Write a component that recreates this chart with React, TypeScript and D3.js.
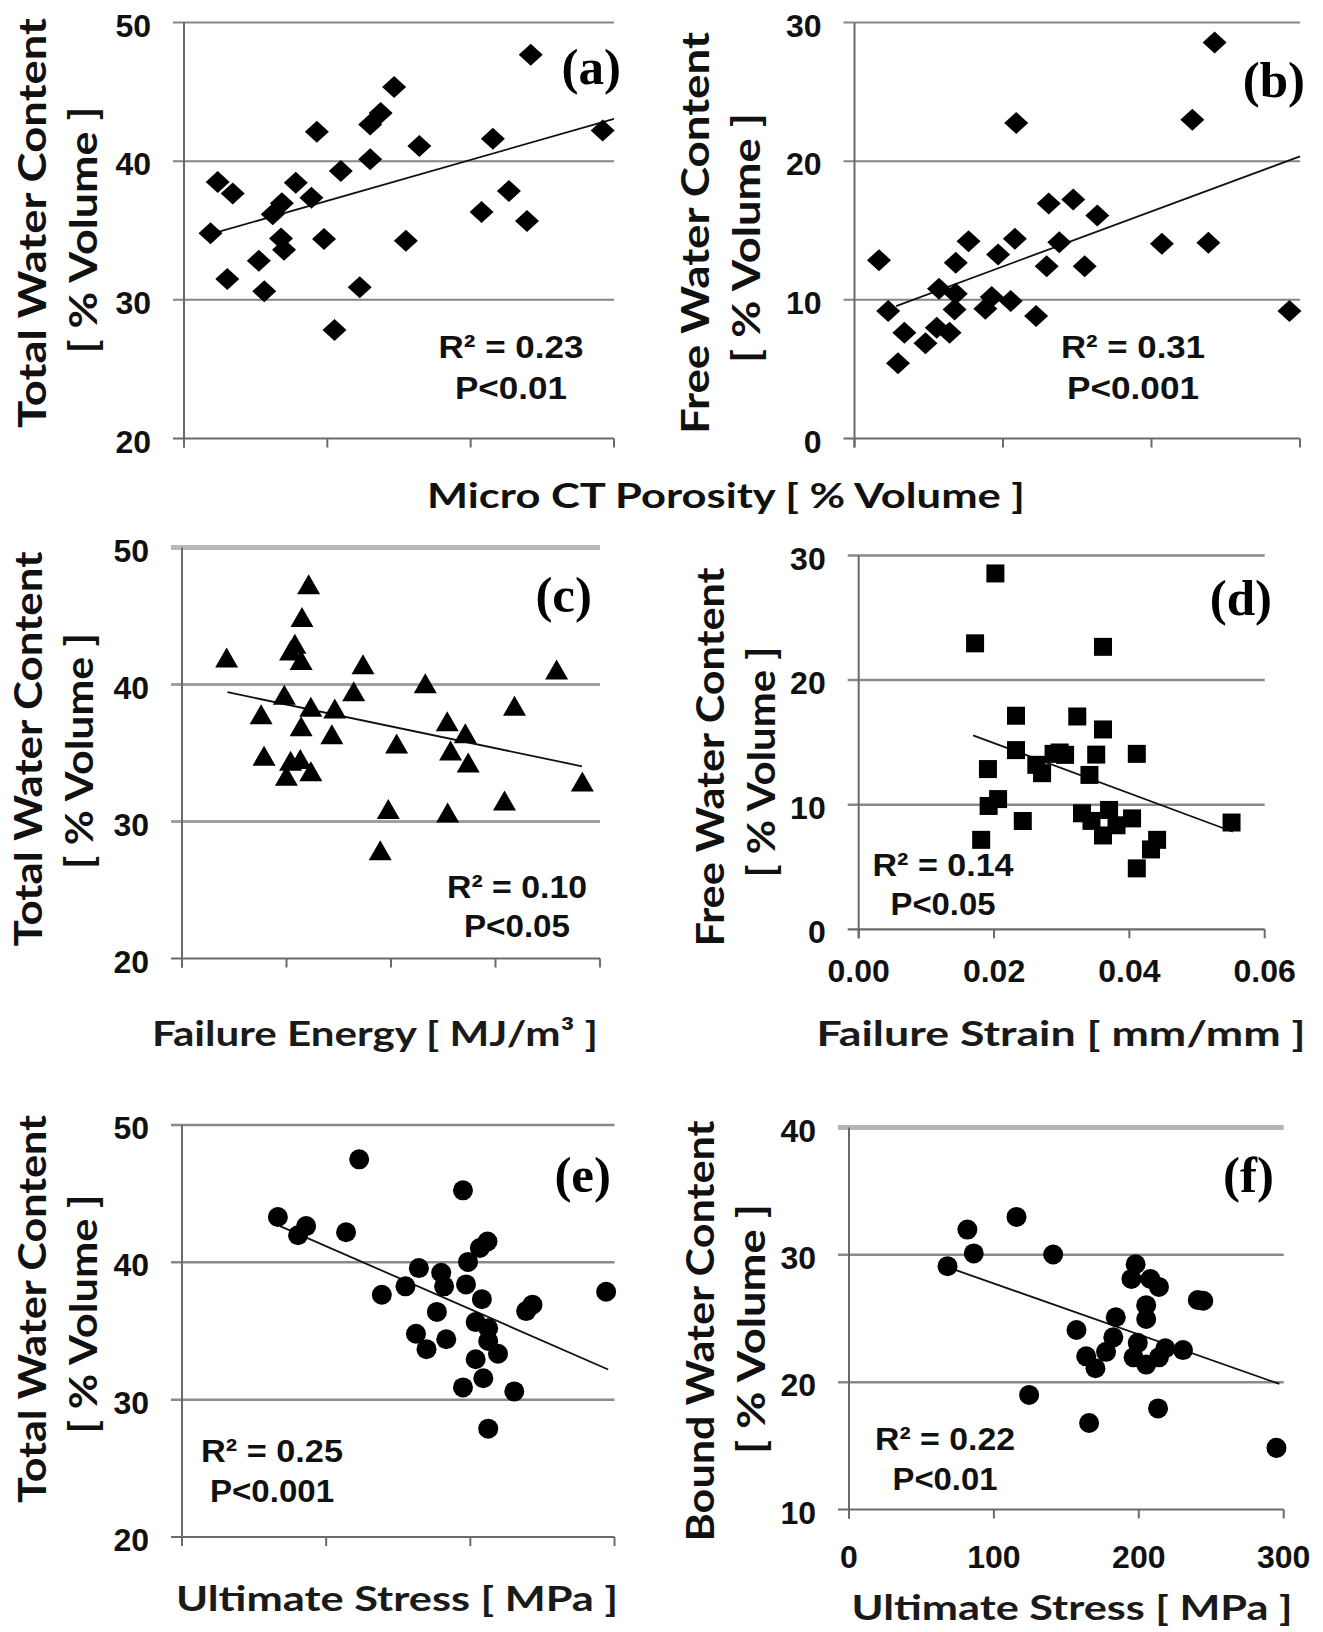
import React from "react";
import * as d3 from "d3";

// ---------- DATA ----------
// (a) Micro CT porosity (unlabelled axis units) vs Total water content
const aX = [2.419, 1.466, 1.372, 1.299, 0.927, 2.921, 2.155, 1.642, 1.299, 1.094, 0.235, 0.78, 0.34, 2.267, 0.889, 0.683, 2.076, 0.619, 0.185, 2.393, 0.677, 0.977, 1.548, 0.698, 0.522, 0.302, 0.56, 1.226, 1.05];
const aY = [47.68, 45.35, 43.48, 42.64, 42.12, 42.21, 41.61, 41.09, 40.13, 39.29, 38.5, 38.45, 37.66, 37.85, 37.37, 36.96, 36.34, 36.17, 34.81, 35.69, 34.42, 34.38, 34.26, 33.61, 32.82, 31.5, 30.61, 30.9, 27.83];
const aTrend = [[0.19, 34.75], [3.0, 43.05]];

// (b) Micro CT porosity vs Free water content
const bX = [2.425, 2.275, 1.089, 1.473, 1.308, 1.635, 1.08, 0.768, 1.379, 2.07, 2.383, 0.967, 0.165, 0.682, 1.294, 1.55, 0.569, 0.682, 0.924, 1.052, 0.227, 0.674, 0.881, 1.223, 2.929, 0.336, 0.64, 0.554, 0.478, 0.293];
const bY = [28.56, 22.99, 22.75, 17.23, 16.94, 16.08, 14.4, 14.23, 14.16, 14.04, 14.11, 13.27, 12.86, 12.67, 12.43, 12.43, 10.8, 10.44, 10.2, 9.91, 9.19, 9.31, 9.36, 8.83, 9.19, 7.63, 7.63, 7.99, 6.87, 5.42];
const bTrend = [[0.28, 9.55], [3.0, 20.35]];

// (c) Failure energy vs Total water content
const cX = [1.212, 1.148, 1.08, 1.039, 1.14, 0.427, 1.732, 3.585, 2.328, 0.979, 1.643, 1.233, 1.462, 3.182, 0.757, 2.538, 1.14, 2.711, 1.434, 2.054, 2.57, 0.785, 1.039, 1.132, 2.739, 1.233, 0.999, 3.831, 3.086, 1.974, 2.542, 1.897];
const cY = [47.18, 44.79, 42.83, 42.33, 41.65, 41.82, 41.33, 40.95, 39.94, 39.11, 39.36, 38.23, 38.11, 38.31, 37.68, 37.18, 36.8, 36.3, 36.22, 35.54, 35.04, 34.66, 34.28, 34.41, 34.16, 33.53, 33.2, 32.78, 31.39, 30.76, 30.51, 27.75];
const cTrend = [[0.435, 39.44], [3.827, 34.03]];

// (d) Failure strain vs Free water content
const dX = [0.0202, 0.0172, 0.0361, 0.02325, 0.0323, 0.0361, 0.02325, 0.0297, 0.0288, 0.0305, 0.0351, 0.0411, 0.0191, 0.02625, 0.0271, 0.0341, 0.0206, 0.0192, 0.02425, 0.033, 0.037, 0.0344, 0.0381, 0.0404, 0.0551, 0.0181, 0.0361, 0.0441, 0.0432, 0.0411];
const dY = [28.56, 22.95, 22.67, 17.14, 17.08, 16.04, 14.38, 14.19, 14.08, 14.0, 14.02, 14.08, 12.86, 13.2, 12.53, 12.39, 10.45, 9.9, 8.7, 9.31, 9.58, 8.7, 8.35, 8.9, 8.57, 7.18, 7.53, 7.18, 6.41, 4.89];
const dTrend = [[0.0169, 15.57], [0.0553, 7.83]];

// (e) Ultimate stress (unlabelled axis units) vs Total water content
const eX = [1.229, 1.949, 0.665, 0.861, 0.805, 1.138, 2.119, 2.066, 1.984, 1.643, 1.798, 1.818, 1.55, 1.97, 2.942, 1.386, 2.08, 2.431, 2.387, 1.768, 2.037, 2.124, 1.623, 1.833, 2.124, 1.696, 2.192, 2.037, 2.09, 1.949, 2.305, 2.124];
const eY = [47.5, 45.24, 43.3, 42.64, 41.97, 42.19, 41.52, 41.04, 40.03, 39.58, 39.24, 38.25, 38.25, 38.39, 37.86, 37.64, 37.32, 36.92, 36.45, 36.39, 35.65, 35.2, 34.8, 34.4, 34.27, 33.68, 33.34, 32.94, 31.56, 30.89, 30.6, 27.89];
const eTrend = [[0.68, 42.64], [2.956, 32.2]];

// (f) Ultimate stress vs Bound water content
const fX = [115.6, 81.7, 86.1, 140.9, 68, 197.8, 194.9, 208, 213.9, 205.1, 240.7, 244.5, 205.1, 184.1, 157, 182.4, 199.3, 230.5, 218.3, 177.4, 163.7, 196.4, 213.9, 205.1, 170.1, 124.3, 213.3, 165.7, 295];
const fY = [32.98, 31.98, 30.11, 30.03, 29.11, 29.26, 28.11, 28.1, 27.48, 26.05, 26.45, 26.39, 24.96, 25.1, 24.1, 23.52, 23.09, 22.52, 22.66, 22.38, 22.03, 21.95, 21.95, 21.38, 21.09, 19.0, 17.94, 16.79, 14.84];
const fTrend = [[68, 29.03], [297, 19.86]];

// tick values / labels
const ticksY50 = [20, 30, 40, 50];
const ticksY30 = [0, 10, 20, 30];
const ticksY40 = [10, 20, 30, 40];
const ticksX3 = [0, 1, 2, 3];
const ticksX4 = [0, 1, 2, 3, 4];
const ticksStrain = [0, 0.02, 0.04, 0.06];
const ticksStress = [0, 100, 200, 300];

const titleTotal = "Total Water Content";
const titleFree = "Free Water Content";
const titleBound = "Bound Water Content";
const titleVol = "[ % Volume ]";

// ---------- LAYOUT ----------
type PanelCfg = {
  xs: number[]; ys: number[]; trend: number[][];
  shape: string;
  xDomain: number[]; yDomain: number[];
  xTicks: number[]; yTicks: number[]; xFmt: ((v: number) => string) | null; xLabOff?: number;
  left: number; right: number; top: number; bottom: number;
  tag: string; tagX: number; tagY: number;
  r2: string; p: string; statX: number; r2Y: number; pY: number; r2L: number; pL: number;
  t1: string; t1X: number; t1Y: number; t1L: number;
  t2X: number; t2Y: number; t2L: number;
  xt?: string; xtX?: number; xtY?: number; xtL?: number;
  grid: string; gridW: number; topGridW?: number; topGrid?: string;
};

const panels: PanelCfg[] = [
  {
    xs: aX, ys: aY, trend: aTrend, shape: "diamond",
    xDomain: [0, 3], yDomain: [20, 50], xTicks: ticksX3, yTicks: ticksY50, xFmt: null,
    left: 184, right: 614, top: 22.5, bottom: 438.5,
    tag: "(a)", tagX: 621, tagY: 84,
    r2: "R² = 0.23", p: "P<0.01", statX: 511, r2Y: 358, pY: 399, r2L: 145, pL: 112,
    t1: titleTotal, t1X: 33, t1Y: 223, t1L: 410, t2X: 84, t2Y: 230, t2L: 247,
    grid: "#858585", gridW: 2,
  },
  {
    xs: bX, ys: bY, trend: bTrend, shape: "diamond",
    xDomain: [0, 3], yDomain: [0, 30], xTicks: ticksX3, yTicks: ticksY30, xFmt: null,
    left: 854.5, right: 1300, top: 22.5, bottom: 438.5,
    tag: "(b)", tagX: 1305, tagY: 97,
    r2: "R² = 0.31", p: "P<0.001", statX: 1133, r2Y: 358, pY: 399, r2L: 144, pL: 132,
    t1: titleFree, t1X: 696, t1Y: 233, t1L: 402, t2X: 747, t2Y: 238, t2L: 250,
    grid: "#858585", gridW: 2,
  },
  {
    xs: cX, ys: cY, trend: cTrend, shape: "triangle",
    xDomain: [0, 4], yDomain: [20, 50], xTicks: ticksX4, yTicks: ticksY50, xFmt: null,
    left: 182, right: 600, top: 547.5, bottom: 958.5,
    tag: "(c)", tagX: 592, tagY: 612,
    r2: "R² = 0.10", p: "P<0.05", statX: 517, r2Y: 898, pY: 937, r2L: 140, pL: 106,
    t1: titleTotal, t1X: 29, t1Y: 749, t1L: 395, t2X: 80, t2Y: 751, t2L: 236,
    xt: "Failure Energy [ MJ/m³ ]", xtX: 375, xtY: 1046, xtL: 446,
    grid: "#a0a0a0", gridW: 3, topGrid: "#b8b8b8", topGridW: 5,
  },
  {
    xs: dX, ys: dY, trend: dTrend, shape: "square",
    xDomain: [0, 0.06], yDomain: [0, 30], xTicks: ticksStrain, yTicks: ticksY30, xFmt: (v) => v.toFixed(2), xLabOff: 53,
    left: 858.7, right: 1264.7, top: 555.5, bottom: 929.3,
    tag: "(d)", tagX: 1272, tagY: 615,
    r2: "R² = 0.14", p: "P<0.05", statX: 943, r2Y: 876, pY: 915, r2L: 141, pL: 105,
    t1: titleFree, t1X: 711, t1Y: 757, t1L: 379, t2X: 762, t2Y: 762, t2L: 231,
    xt: "Failure Strain [ mm/mm ]", xtX: 1061, xtY: 1046, xtL: 489,
    grid: "#8a8a8a", gridW: 2.5,
  },
  {
    xs: eX, ys: eY, trend: eTrend, shape: "circle",
    xDomain: [0, 3], yDomain: [20, 50], xTicks: ticksX3, yTicks: ticksY50, xFmt: null,
    left: 182, right: 614.5, top: 1125, bottom: 1537,
    tag: "(e)", tagX: 611, tagY: 1192,
    r2: "R² = 0.25", p: "P<0.001", statX: 272, r2Y: 1462, pY: 1502, r2L: 142, pL: 124,
    t1: titleTotal, t1X: 33, t1Y: 1309, t1L: 388, t2X: 84, t2Y: 1314, t2L: 239,
    xt: "Ultimate Stress [ MPa ]", xtX: 397, xtY: 1611, xtL: 442,
    grid: "#8a8a8a", gridW: 2.5,
  },
  {
    xs: fX, ys: fY, trend: fTrend, shape: "circle",
    xDomain: [0, 300], yDomain: [10, 40], xTicks: ticksStress, yTicks: ticksY40, xFmt: (v) => String(v), xLabOff: 58,
    left: 849, right: 1283.7, top: 1127.5, bottom: 1509.5,
    tag: "(f)", tagX: 1274, tagY: 1192,
    r2: "R² = 0.22", p: "P<0.01", statX: 945, r2Y: 1450, pY: 1490, r2L: 140, pL: 105,
    t1: titleBound, t1X: 701, t1Y: 1331, t1L: 421, t2X: 752, t2Y: 1329, t2L: 250,
    xt: "Ultimate Stress [ MPa ]", xtX: 1072, xtY: 1620, xtL: 441,
    grid: "#8a8a8a", gridW: 2.5, topGrid: "#b5b5b5", topGridW: 5,
  },
];

const NUM_FONT = "'Liberation Sans', Arial, sans-serif";
const TITLE_FONT = "Lato, 'Open Sans', sans-serif";
const TAG_FONT = "'Liberation Serif', 'Times New Roman', serif";
const INK = "#111";

function markerPath(shape: string, cx: number, cy: number): string {
  switch (shape) {
    case "diamond":
      return `M${cx},${cy - 11}L${cx + 12},${cy}L${cx},${cy + 11}L${cx - 12},${cy}Z`;
    case "triangle":
      return `M${cx},${cy - 12}L${cx + 11.5},${cy + 8}L${cx - 11.5},${cy + 8}Z`;
    case "square":
      return `M${cx - 9},${cy - 9}h18v18h-18Z`;
    default: {
      const p = d3.path();
      p.arc(cx, cy, 10, 0, Math.PI * 2);
      return p.toString();
    }
  }
}

function Panel({ c }: { c: PanelCfg }) {
  const x = d3.scaleLinear().domain(c.xDomain).range([c.left, c.right]);
  const y = d3.scaleLinear().domain(c.yDomain).range([c.bottom, c.top]);
  const line = d3.line<number[]>().x((d) => x(d[0])).y((d) => y(d[1]));
  const yMax = c.yDomain[1];
  const yMin = c.yDomain[0];
  return (
    <g>
      {c.yTicks.map((t) => (
        <line key={"g" + t} x1={c.left - 11} x2={c.right} y1={y(t)} y2={y(t)}
          stroke={t === yMax && c.topGrid ? c.topGrid : t === yMin ? "#6a6a6a" : c.grid}
          strokeWidth={t === yMax && c.topGridW ? c.topGridW : t === yMin ? 2.2 : c.gridW} />
      ))}
      <line x1={c.left} x2={c.left} y1={c.top} y2={c.bottom + 9} stroke="#6a6a6a" strokeWidth={2} />
      {c.xTicks.map((t) => (
        <line key={"xt" + t} x1={x(t)} x2={x(t)} y1={c.bottom} y2={c.bottom + 9} stroke="#6a6a6a" strokeWidth={2} />
      ))}
      {c.yTicks.map((t) => (
        <text key={"yl" + t} x={c.left - 33} y={y(t) + 14} textAnchor="end"
          fontFamily={NUM_FONT} fontWeight="bold" fontSize={32} fill={INK}>{t}</text>
      ))}
      {c.xFmt && c.xTicks.map((t) => (
        <text key={"xl" + t} x={x(t)} y={c.bottom + (c.xLabOff || 52)} textAnchor="middle"
          fontFamily={NUM_FONT} fontWeight="bold" fontSize={32} fill={INK}>{c.xFmt!(t)}</text>
      ))}
      <path d={line(c.trend) || ""} fill="none" stroke="#111" strokeWidth={1.8} />
      {c.xs.map((v, i) => (
        <path key={"m" + i} d={markerPath(c.shape, x(v), y(c.ys[i]))} fill="#000" />
      ))}
      <text x={c.tagX} y={c.tagY} textAnchor="end" fontFamily={TAG_FONT} fontWeight="bold" fontSize={51} fill="#000">{c.tag}</text>
      <text x={c.statX} y={c.r2Y} textAnchor="middle" fontFamily={NUM_FONT} fontWeight="bold" fontSize={32} fill={INK}
        textLength={c.r2L} lengthAdjust="spacingAndGlyphs">{c.r2}</text>
      <text x={c.statX} y={c.pY} textAnchor="middle" fontFamily={NUM_FONT} fontWeight="bold" fontSize={32} fill={INK}
        textLength={c.pL} lengthAdjust="spacingAndGlyphs">{c.p}</text>
      <text transform={`translate(${c.t1X + 13},${c.t1Y}) rotate(-90)`} textAnchor="middle"
        fontFamily={TITLE_FONT} fontWeight="bold" fontSize={38} fill={INK}
        textLength={c.t1L} lengthAdjust="spacingAndGlyphs">{c.t1}</text>
      <text transform={`translate(${c.t2X + 13},${c.t2Y}) rotate(-90)`} textAnchor="middle"
        fontFamily={TITLE_FONT} fontWeight="bold" fontSize={38} fill={INK}
        textLength={c.t2L} lengthAdjust="spacingAndGlyphs">{titleVol}</text>
      {c.xt && (
        <text x={c.xtX} y={c.xtY} textAnchor="middle" fontFamily={TITLE_FONT} fontWeight="bold"
          fontSize={34} fill="#1a1a1a" textLength={c.xtL} lengthAdjust="spacingAndGlyphs">{c.xt}</text>
      )}
    </g>
  );
}

export default function App() {
  return (
    <svg width={1323} height={1632} viewBox="0 0 1323 1632"
      style={{ position: "absolute", left: 0, top: 0, background: "#fff" }}>
      <rect x={0} y={0} width={1323} height={1632} fill="#fff" />
      {panels.map((p, i) => <Panel key={i} c={p} />)}
      <text x={726} y={508} textAnchor="middle" fontFamily={TITLE_FONT} fontWeight="bold" fontSize={34}
        fill={INK} textLength={598} lengthAdjust="spacingAndGlyphs">Micro CT Porosity  [ % Volume ]</text>
    </svg>
  );
}
